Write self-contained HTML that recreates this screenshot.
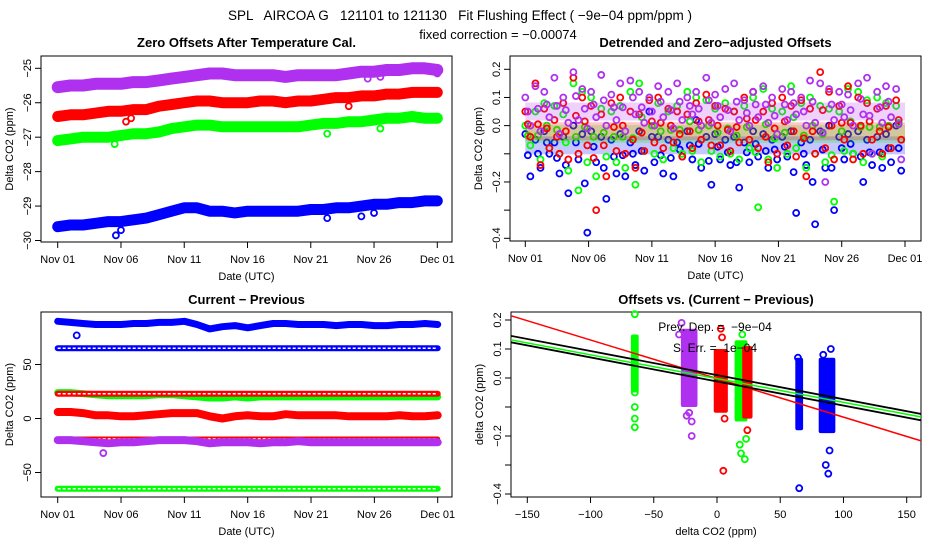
<!DOCTYPE html>
<html><head><meta charset="utf-8"><style>
body{margin:0;background:#fff}
svg{display:block;font-family:"Liberation Sans",sans-serif}
text{white-space:pre}
</style></head><body>
<svg id="c" width="936" height="540" viewBox="0 0 936 540" xmlns="http://www.w3.org/2000/svg" xml:space="preserve">
<rect width="936" height="540" fill="#fff"/>
<text x="460" y="20" font-size="13.5" text-anchor="middle">SPL   AIRCOA G   121101 to 121130   Fit Flushing Effect ( −9e−04 ppm/ppm )</text>
<text x="498" y="39" font-size="13" text-anchor="middle">fixed correction = −0.00074</text>
<g id="g"></g>
</svg>
<script>
// ---------- data ----------
var dayTicks = ["Nov 01","Nov 06","Nov 11","Nov 16","Nov 21","Nov 26","Dec 01"];
var dayTickVals = [0,5,10,15,20,25,30];
// Panel 1 daily values
var p1Purple = [-25.55,-25.5,-25.5,-25.45,-25.45,-25.45,-25.4,-25.4,-25.35,-25.3,-25.25,-25.2,-25.15,-25.15,-25.2,-25.2,-25.2,-25.2,-25.25,-25.2,-25.2,-25.2,-25.2,-25.15,-25.1,-25.1,-25.05,-25.05,-25.0,-25.0,-25.05];
var p1Red = [-26.4,-26.35,-26.35,-26.3,-26.25,-26.25,-26.2,-26.2,-26.1,-26.05,-26.0,-25.95,-25.95,-26.0,-26.0,-26.0,-25.95,-25.95,-26.0,-25.95,-25.95,-25.9,-25.85,-25.85,-25.8,-25.8,-25.75,-25.75,-25.7,-25.7,-25.7];
var p1Green = [-27.1,-27.05,-27.0,-27.0,-27.0,-26.95,-26.9,-26.9,-26.85,-26.75,-26.7,-26.65,-26.65,-26.7,-26.7,-26.7,-26.7,-26.7,-26.7,-26.7,-26.65,-26.6,-26.6,-26.55,-26.55,-26.5,-26.45,-26.45,-26.4,-26.45,-26.45];
var p1Blue = [-29.6,-29.55,-29.55,-29.5,-29.45,-29.45,-29.4,-29.35,-29.25,-29.15,-29.05,-29.05,-29.15,-29.15,-29.2,-29.15,-29.15,-29.15,-29.15,-29.15,-29.1,-29.1,-29.05,-29.05,-29.0,-28.95,-28.95,-28.9,-28.9,-28.85,-28.85];
var p1OutDay = [4.6,5,21.3,24,25,5.4,5.8,23,4.5,21.3,25.5,24.5,25.5,30];
var p1OutVal = [-29.85,-29.7,-29.35,-29.3,-29.2,-26.55,-26.45,-26.1,-27.2,-26.9,-26.75,-25.3,-25.25,-25.15];
var p1OutCol = ["b","b","b","b","b","r","r","r","g","g","g","p","p","p"];
var p1Ticks = [-25,-26,-27,-28,-29,-30];

// Panel 2 scatter
var p2Days = [0,0.8,1.5,2.3,3,3.8,4.5,5.2,6,6.8,7.5,8.3,9,9.8,10.5,11.3,12,12.8,13.5,14.3,15,15.8,16.5,17.3,18,18.8,19.5,20.3,21,21.8,22.5,23.3,24,24.8,25.5,26.3,27,27.8,28.5,29.3];
var p2PurpleA = [.1,.14,.12,.17,.1,.19,.13,.12,.18,.11,.15,.16,.12,.1,.14,.12,.15,.1,.12,.17,.11,.13,.15,.09,.12,.14,.1,.13,.12,.1,.16,.15,.13,.12,.11,.15,.17,.12,.14,.13];
var p2PurpleB = [0,-.02,.03,-.03,.01,.02,-.01,.03,0,.02,-.02,.04,.01,0,.03,-.01,.02,.04,0,.01,.03,-.02,.02,0,.03,.01,-.03,.02,.04,0,.01,-.2,.02,.03,0,.04,-.1,.01,.03,-.12];
var p2RedA = [.05,.15,.06,.02,.08,.17,.1,.07,.04,.08,.1,.05,.04,.09,.1,.06,.05,.04,.08,.11,.07,.06,.05,.1,.12,.05,.08,.1,.07,.09,.06,.19,.12,.07,.14,.1,.08,.06,.07,.09];
var p2RedB = [-.04,-.14,-.08,-.1,-.12,-.1,-.07,-.3,-.18,-.09,-.1,-.15,-.09,-.06,-.08,-.06,-.11,-.08,-.05,-.07,-.07,-.09,-.06,-.05,-.08,-.13,-.1,-.07,-.11,-.18,-.1,-.08,-.12,-.05,-.12,-.1,-.05,-.1,-.08,-.05];
var p2GreenA = [0,.05,.08,.07,.04,.15,.12,.1,.06,.05,.07,.12,.15,.1,.08,.05,.07,.12,.1,.09,.06,.08,.05,.07,.1,.13,.06,.05,.14,.08,.1,.07,.06,.05,.13,.12,.09,.1,.08,.07];
var p2GreenB = [-.07,-.12,-.08,-.1,-.16,-.23,-.13,-.18,-.11,-.13,-.15,-.21,-.09,-.1,-.12,-.08,-.1,-.09,-.13,-.09,-.11,-.1,-.12,-.08,-.29,-.12,-.15,-.1,-.08,-.15,-.1,-.13,-.27,-.09,-.1,-.13,-.1,-.11,-.08,-.05];
var p2BlueA = [-.03,-.05,-.02,-.06,-.04,0,-.03,-.02,-.04,-.05,-.03,-.06,-.02,.05,-.04,-.05,-.06,-.02,.02,-.04,-.03,-.05,-.04,-.06,-.02,-.03,-.05,-.04,-.02,-.06,-.05,-.02,0,-.04,-.03,-.02,-.05,-.04,-.03,0];
var p2BlueB = [-.18,-.15,-.1,-.17,-.24,-.12,-.38,-.13,-.26,-.17,-.18,-.14,-.16,-.13,-.17,-.18,-.11,-.12,-.15,-.21,-.12,-.14,-.22,-.13,-.11,-.15,-.12,-.11,-.31,-.14,-.35,-.15,-.3,-.12,-.1,-.2,-.14,-.15,-.13,-.16];
var p2Means = {b:-0.07,g:-0.03,r:-0.02,p:0.05};
var p2Ticks = [0.2,0.1,0.0,-0.1,-0.2,-0.3,-0.4];
var p2TickLabels = ["0.2","0.1","0.0","","−0.2","","−0.4"];

// Panel 3 daily
var p3BlueTop = [90,89,88,87,87,87,88,88,89,89,90,87,83,85,86,84,86,88,88,87,87,87,86,87,87,86,86,87,87,88,87];
var p3BlueMid = [65,65,65,65,65,65,65,65,65,65,65,65,65,65,65,65,65,65,65,65,65,65,65,65,65,65,65,65,65,65,65];
var p3RedUp = [23,23,23,23,23,23,23,23,23,23,23,23,23,23,23,23,23,23,23,23,23,23,23,23,23,23,23,23,23,23,23];
var p3GreenUp = [24,24,23,22,21,21,21,21,22,22,21,20,19,19,20,19,20,20,20,20,20,20,20,20,20,20,20,20,20,20,20];
var p3Red0 = [6,6,5,3,3,2,2,3,4,5,5,5,2,0,2,3,2,2,4,3,3,3,3,2,2,2,2,3,2,2,3];
var p3RedLow = [-19,-19,-19,-19,-19,-19,-19,-19,-19,-19,-19,-19,-19,-19,-19,-19,-19,-19,-19,-19,-19,-19,-19,-19,-19,-19,-19,-19,-19,-19,-19];
var p3Purple = [-20,-20,-21,-22,-23,-22,-22,-21,-20,-20,-20,-21,-23,-22,-22,-22,-23,-22,-22,-21,-22,-22,-22,-22,-22,-22,-22,-22,-22,-22,-22];
var p3GreenLow = [-65,-65,-65,-65,-65,-65,-65,-65,-65,-65,-65,-65,-65,-65,-65,-65,-65,-65,-65,-65,-65,-65,-65,-65,-65,-65,-65,-65,-65,-65,-65];
var p3Ticks = [50,0,-50];

// Panel 4 clusters
var p4ClusterX = [-65,-22,3,19,24,65,87];
var p4ClusterLo = [-0.05,-0.1,-0.12,-0.15,-0.14,-0.18,-0.19];
var p4ClusterHi = [0.15,0.17,0.1,0.13,0.11,0.07,0.07];
var p4ClusterW = [3,10,8,7,5,3,10];
var p4ClusterCol = ["g","p","r","g","r","b","b"];
var p4OutX = [-65,-65,-65,-65,-65,-30,-28,-20,-20,-22,-24,3,4,5,6,18,19,20,22,23,24,65,64,86,88,89,84,90];
var p4OutY = [0.22,-0.05,-0.1,-0.14,-0.17,0.15,0.19,-0.15,-0.2,-0.12,-0.13,0.17,0.14,-0.32,-0.14,-0.23,-0.26,0.15,-0.28,-0.21,-0.18,-0.38,0.07,-0.3,-0.33,-0.25,0.08,0.1];
var p4OutCol = ["g","g","g","g","g","p","p","p","p","p","p","r","r","r","r","g","g","g","g","g","r","b","b","b","b","b","b","b"];
var p4LineSlope = [-0.00133,-0.00082,-0.00083,-0.00083];
var p4LineInt = [-0.002,-0.002,0.01,-0.012];
var p4LineCol = ["r","g","k","k"];
var p4XTicks = [-150,-100,-50,0,50,100,150];
var p4YTicks = [0.2,0.1,0.0,-0.1,-0.2,-0.3,-0.4];
var p4YTickLabels = ["0.2","0.1","0.0","","−0.2","","−0.4"];

// ---------- drawing ----------
var COL = {b:"#0000ff",g:"#00ff00",r:"#ff0000",p:"#b030f0",k:"#000"};
var NS = "http://www.w3.org/2000/svg";
var G = document.getElementById("g");
function mk(tag, attrs, parent){var e=document.createElementNS(NS,tag);for(var k in attrs)e.setAttribute(k,attrs[k]);(parent||G).appendChild(e);return e;}
function lin(d0,d1,r0,r1){return function(v){return r0+(v-d0)*(r1-r0)/(d1-d0);};}

function frame(name, box, title, xlab, ylab){
  var g=mk("g",{});
  
  
  var r=mk("rect",{x:box[0],y:box[1],width:box[2]-box[0],height:box[3]-box[1],fill:"none",stroke:"#000","stroke-width":1},g);
  
  
  var t=mk("text",{x:(box[0]+box[2])/2,y:47,"font-size":13,"font-weight":"bold","text-anchor":"middle"},g);
  if(box[1]>200) t.setAttribute("y",box[1]-8);
  t.textContent=title;
  
  
  var xl=mk("text",{x:(box[0]+box[2])/2,y:box[3]+38,"font-size":11,"text-anchor":"middle"},g);
  xl.textContent=xlab;
  
  
  var cy=(box[1]+box[3])/2;
  var yl=mk("text",{x:box[0]-28,y:cy,"font-size":11,"text-anchor":"middle",transform:"rotate(-90 "+(box[0]-28)+" "+cy+")"},g);
  yl.textContent=ylab;
  
  
  return g;
}
function xAxis(g, box, sx, vals, labels){
  var ax=mk("g",{},g);
  
  
  var y=box[3];
  mk("line",{x1:sx(vals[0]),x2:sx(vals[vals.length-1]),y1:y,y2:y,stroke:"#000"},ax);
  for(var i=0;i<vals.length;i++){
    var x=sx(vals[i]);
    mk("line",{x1:x,x2:x,y1:y,y2:y+6,stroke:"#000"},ax);
    var t=mk("text",{x:x,y:y+21,"font-size":11,"text-anchor":"middle"},ax);
    t.textContent=labels[i];
    
    
  }
}
function yAxis(g, box, sy, vals, labels){
  var ax=mk("g",{},g);
  
  
  var x=box[0];
  mk("line",{x1:x,x2:x,y1:sy(vals[0]),y2:sy(vals[vals.length-1]),stroke:"#000"},ax);
  for(var i=0;i<vals.length;i++){
    var y=sy(vals[i]);
    mk("line",{x1:x-6,x2:x,y1:y,y2:y,stroke:"#000"},ax);
    if(labels[i]!==""){
      var t=mk("text",{x:x-10,y:y,"font-size":11,"text-anchor":"middle",transform:"rotate(-90 "+(x-10)+" "+y+")"},ax);
      t.textContent=labels[i];
      
      
    }
  }
}
function band(g,name,sx,sy,vals,col,w,chain){
  var pts=vals.map(function(v,i){return sx(i).toFixed(1)+","+sy(v).toFixed(1);}).join(" ");
  var l=mk("polyline",{points:pts,fill:"none",stroke:col,"stroke-width":w,"stroke-linejoin":"round","stroke-linecap":"round"},g);
  
  
  if(chain){mk("polyline",{points:pts,fill:"none",stroke:"#fff","stroke-width":1.5,"stroke-dasharray":"3 2"},g);}
}
function dot(g,x,y,col){
  var c=mk("circle",{cx:x,cy:y,r:3,fill:"none",stroke:col,"stroke-width":1.8},g);
  
  
}

// Panel 1
(function(){
  var box=[41,56,452,242];
  var g=frame("zero-offsets-panel",box,"Zero Offsets After Temperature Cal.","Date (UTC)","Delta CO2 (ppm)");
  var sx=lin(0,30,57.7,437.3), sy=lin(-25,-30,68.3,240.5);
  xAxis(g,box,sx,dayTickVals,dayTicks);
  yAxis(g,box,sy,p1Ticks,p1Ticks.map(function(v){return String(v).replace("-","−");}));
  band(g,"series-blue",sx,sy,p1Blue,COL.b,11);
  band(g,"series-green",sx,sy,p1Green,COL.g,11);
  band(g,"series-red",sx,sy,p1Red,COL.r,11);
  band(g,"series-purple",sx,sy,p1Purple,COL.p,12);
  for(var i=0;i<p1OutDay.length;i++) dot(g,sx(p1OutDay[i]),sy(p1OutVal[i]),COL[p1OutCol[i]]);
})();

// Panel 2
(function(){
  var box=[510,56,921,241];
  var g=frame("detrended-offsets-panel",box,"Detrended and Zero−adjusted Offsets","Date (UTC)","Delta CO2 (ppm)");
  var sx=lin(0,30,525.3,905), sy=lin(0.2,-0.4,69.3,238.3);
  xAxis(g,box,sx,dayTickVals,dayTicks);
  yAxis(g,box,sy,p2Ticks,p2TickLabels);
  var order=[["b",p2BlueA,p2BlueB],["g",p2GreenA,p2GreenB],["r",p2RedA,p2RedB],["p",p2PurpleA,p2PurpleB]];
  order.forEach(function(s){
    var y=sy(p2Means[s[0]]);
    var r=mk("rect",{x:sx(0),y:y-9,width:sx(30)-sx(0),height:18,fill:COL[s[0]],opacity:0.22},g);
    
    
    for(var i=0;i<p2Days.length;i++){
      dot(g,sx(p2Days[i]),sy(s[1][i]),COL[s[0]]);
      dot(g,sx(p2Days[i]+0.4),sy(s[2][i]),COL[s[0]]);
      dot(g,sx(p2Days[i]+0.2),sy((s[1][i]+s[2][i])/2),COL[s[0]]);
    }
  });
})();

// Panel 3
(function(){
  var box=[41,312,452,497];
  var g=frame("current-minus-previous-panel",box,"Current − Previous","Date (UTC)","Delta CO2 (ppm)");
  var sx=lin(0,30,57.7,437.7), sy=lin(0,50,418.5,364.5);
  xAxis(g,box,sx,dayTickVals,dayTicks);
  yAxis(g,box,sy,p3Ticks,["50","0","−50"]);
  band(g,"series-blue-top",sx,sy,p3BlueTop,COL.b,7);
  band(g,"series-blue-mid",sx,sy,p3BlueMid,COL.b,6,true);
  band(g,"series-green-up",sx,sy,p3GreenUp,COL.g,7);
  band(g,"series-red-up",sx,sy,p3RedUp,COL.r,6,true);
  band(g,"series-red-zero",sx,sy,p3Red0,COL.r,8);
  band(g,"series-red-low",sx,sy,p3RedLow,COL.r,5,true);
  band(g,"series-purple",sx,sy,p3Purple,COL.p,8);
  band(g,"series-green-low",sx,sy,p3GreenLow,COL.g,6,true);
  dot(g,sx(1.5),sy(77),COL.b);
  dot(g,sx(3.6),sy(-32),COL.p);
})();

// Panel 4
(function(){
  var box=[511,312,921,497];
  var g=frame("offsets-vs-diff-panel",box,"Offsets vs. (Current − Previous)","delta CO2 (ppm)","delta CO2 (ppm)");
  var sx=lin(0,150,717,906.7), sy=lin(0,0.2,378,320);
  xAxis(g,box,sx,p4XTicks,p4XTicks.map(function(v){return String(v).replace("-","−");}));
  yAxis(g,box,sy,p4YTicks,p4YTickLabels);
  for(var i=0;i<p4ClusterX.length;i++){
    var x0=sx(p4ClusterX[i]-p4ClusterW[i]/2), x1=sx(p4ClusterX[i]+p4ClusterW[i]/2);
    var r=mk("rect",{x:x0-2,y:sy(p4ClusterHi[i]),width:x1-x0+4,height:sy(p4ClusterLo[i])-sy(p4ClusterHi[i]),fill:COL[p4ClusterCol[i]],rx:2},g);
    
    
  }
  for(var j=0;j<p4OutX.length;j++) dot(g,sx(p4OutX[j]),sy(p4OutY[j]),COL[p4OutCol[j]]);
  var cp=mk("clipPath",{id:"cp4"},g); mk("rect",{x:box[0],y:box[1],width:box[2]-box[0],height:box[3]-box[1]},cp);
  for(var k=0;k<p4LineSlope.length;k++){
    var xa=-165, xb=165;
    var l=mk("line",{x1:sx(xa),y1:sy(p4LineInt[k]+p4LineSlope[k]*xa),x2:sx(xb),y2:sy(p4LineInt[k]+p4LineSlope[k]*xb),stroke:COL[p4LineCol[k]],"stroke-width":p4LineCol[k]==="k"?1.8:1.5,"clip-path":"url(#cp4)"},g);
    
    
  }
  var t1=mk("text",{x:715,y:331,"font-size":12,"text-anchor":"middle"},g);
  t1.textContent="Prev. Dep. =  −9e−04";
  
  
  var t2=mk("text",{x:715,y:352,"font-size":12,"text-anchor":"middle"},g);
  t2.textContent="S. Err. =  1e−04";
  
  
})();
</script>
</body></html>
